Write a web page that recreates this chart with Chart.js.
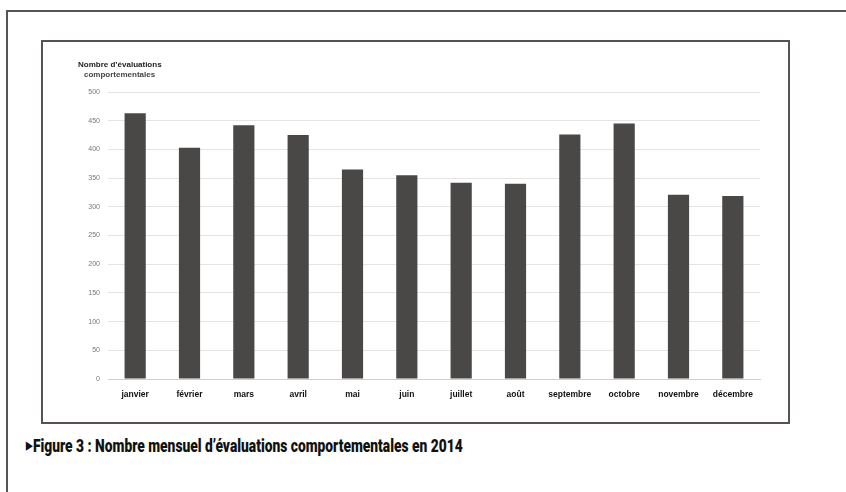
<!DOCTYPE html>
<html lang="fr">
<head>
<meta charset="utf-8">
<script src="https://cdn.jsdelivr.net/npm/chart.js@4"></script>
<style>
  html, body { margin: 0; padding: 0; background: #fff; }
  body { width: 846px; height: 492px; position: relative; overflow: hidden; font-family: Roboto, "Liberation Sans", sans-serif; }
  .cadre { position: absolute; left: 6px; top: 10px; width: 850px; height: 490px; border-top: 2px solid #555; border-left: 2px solid #555; }
  .boite { position: absolute; left: 41px; top: 40px; width: 745px; height: 380px; border: 2px solid #5a5252; }
  #wrap { position: absolute; left: 44px; top: 43px; width: 743px; height: 378px; }
  .titre-axe { position: absolute; left: 78px; top: 60px; font: bold 8px "Liberation Sans", Arial, sans-serif; color: #222; line-height: 10px; }
  .titre-axe span { display: block; padding-left: 6px; color: #444; }
  .legende { position: absolute; left: 26px; top: 435px; font: 900 18px Roboto, "Liberation Sans", sans-serif; color: #111; white-space: nowrap; transform-origin: left top; }
  .legende .fl { font-size: 11px; vertical-align: 3px; margin-right: 1px; }
</style>
</head>
<body>
<div class="cadre"></div>
<div class="boite"></div>
<div id="wrap"><canvas id="graphique"></canvas></div>
<div class="titre-axe">Nombre d’évaluations<span>comportementales</span></div>
<div class="legende" id="legende"><span class="fl">▶</span>Figure 3 : Nombre mensuel d’évaluations comportementales en 2014</div>

<script>
// données
const mois = ['janvier', 'février', 'mars', 'avril', 'mai', 'juin', 'juillet', 'août', 'septembre', 'octobre', 'novembre', 'décembre'];
const evaluations = [463, 403, 442, 425, 365, 355, 342, 340, 426, 445, 321, 319];
const graduations = [0, 50, 100, 150, 200, 250, 300, 350, 400, 450, 500];

const ctx = document.getElementById('graphique').getContext('2d');
new Chart(ctx, {
    type: 'bar',
    data: {
        labels: mois,
        datasets: [{
            data: evaluations,
            backgroundColor: '#4a4747',
            borderWidth: 0,
            categoryPercentage: 1,
            barPercentage: 0.39
        }]
    },
    options: {
        responsive: true,
        maintainAspectRatio: false,
        animation: false,
        layout: { padding: { left: 0, right: 27, top: 49, bottom: 12 } },
        plugins: { legend: { display: false }, tooltip: { enabled: false } },
        scales: {
            x: {
                grid: { display: false },
                border: { color: '#cfcfcf' },
                ticks: { color: '#111', font: { family: 'Liberation Sans', size: 8.5, weight: 'bold' }, padding: 3, maxRotation: 0, autoSkip: false },
                afterFit: scale => { scale.height = 30; }
            },
            y: {
                min: 0,
                max: 500,
                afterBuildTicks: scale => { scale.ticks = graduations.map(v => ({ value: v })); },
                grid: { color: '#e4e4e4', drawTicks: false },
                border: { display: false },
                ticks: { color: '#777', font: { family: 'Liberation Sans', size: 7 }, padding: 8 },
                afterFit: scale => { scale.width = 64; }
            }
        }
    }
});

// ajuster la largeur de la légende à celle de la figure
const leg = document.getElementById('legende');
leg.style.transform = 'scaleX(' + (437 / leg.offsetWidth) + ')';
</script>
</body>
</html>
